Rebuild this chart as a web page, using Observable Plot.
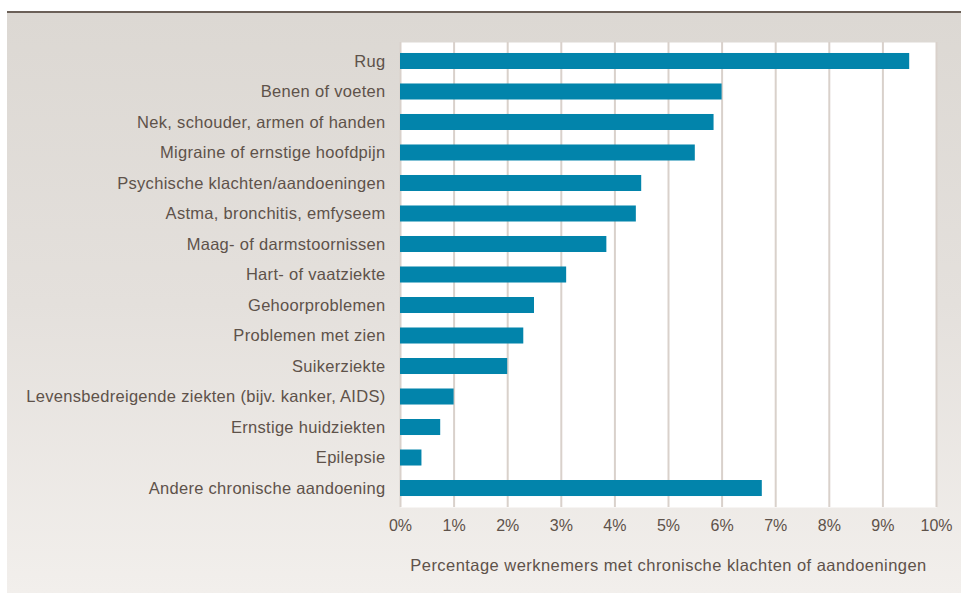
<!DOCTYPE html>
<html>
<head>
<meta charset="utf-8">
<script src="https://cdn.jsdelivr.net/npm/d3@7"></script>
<script src="https://cdn.jsdelivr.net/npm/@observablehq/plot@0.6"></script>
<style>
  html, body { margin: 0; padding: 0; background: #ffffff; }
  #wrap { position: relative; width: 961px; height: 593px; overflow: hidden; }
  #panel {
    position: absolute; left: 7px; top: 11px; width: 954px; height: 580px;
    border-top: 2px solid #6b6058;
    background: linear-gradient(to bottom, #dcd8d3 0%, #e4e0dc 50%, #f2efec 100%);
  }
  #panel svg { display: block; background: transparent; }
  #panel g[aria-label="y-axis tick label"] text { letter-spacing: 0.3px; }
  #panel g[aria-label="x-axis label"] text { letter-spacing: 0.45px; }
</style>
</head>
<body>
<div id="wrap"><div id="panel"></div></div>
<script>
const categories = [
  "Rug",
  "Benen of voeten",
  "Nek, schouder, armen of handen",
  "Migraine of ernstige hoofdpijn",
  "Psychische klachten/aandoeningen",
  "Astma, bronchitis, emfyseem",
  "Maag- of darmstoornissen",
  "Hart- of vaatziekte",
  "Gehoorproblemen",
  "Problemen met zien",
  "Suikerziekte",
  "Levensbedreigende ziekten (bijv. kanker, AIDS)",
  "Ernstige huidziekten",
  "Epilepsie",
  "Andere chronische aandoening"
];
const values = [9.5, 6.0, 5.85, 5.5, 4.5, 4.4, 3.85, 3.1, 2.5, 2.3, 2.0, 1.0, 0.75, 0.4, 6.75];
const xTicks = [0, 1, 2, 3, 4, 5, 6, 7, 8, 9, 10];
const xTitle = "Percentage werknemers met chronische klachten of aandoeningen";

const data = categories.map((c, i) => ({category: c, value: values[i]}));

const textColor = "#5e524a";
const chart = Plot.plot({
  width: 954,
  height: 580,
  marginLeft: 393,
  marginRight: 25,
  marginTop: 29,
  marginBottom: 86,
  style: {fontFamily: "'Liberation Sans', Arial, sans-serif", fontSize: "16px", color: textColor, background: "transparent"},
  x: {domain: [0, 10]},
  y: {domain: categories, paddingInner: 0.475, paddingOuter: 0.36, round: false},
  marks: [
    Plot.frame({fill: "#ffffff", stroke: null}),
    Plot.ruleX(xTicks, {stroke: "#d9d1cb", strokeWidth: 2}),
    Plot.barX(data, {x: "value", y: "category", fill: "#0284ab"}),
    Plot.axisY({tickSize: 0, tickPadding: 15, label: null, fontSize: 16.5}),
    Plot.axisX({ticks: xTicks, tickSize: 0, tickPadding: 12, tickFormat: d => d + "%", fontSize: 16,
      label: xTitle, labelAnchor: "center", labelArrow: "none", labelOffset: 63})
  ]
});
d3.select(chart).select('g[aria-label="x-axis label"]').attr("font-size", 16.5);
document.getElementById("panel").appendChild(chart);
</script>
</body>
</html>
